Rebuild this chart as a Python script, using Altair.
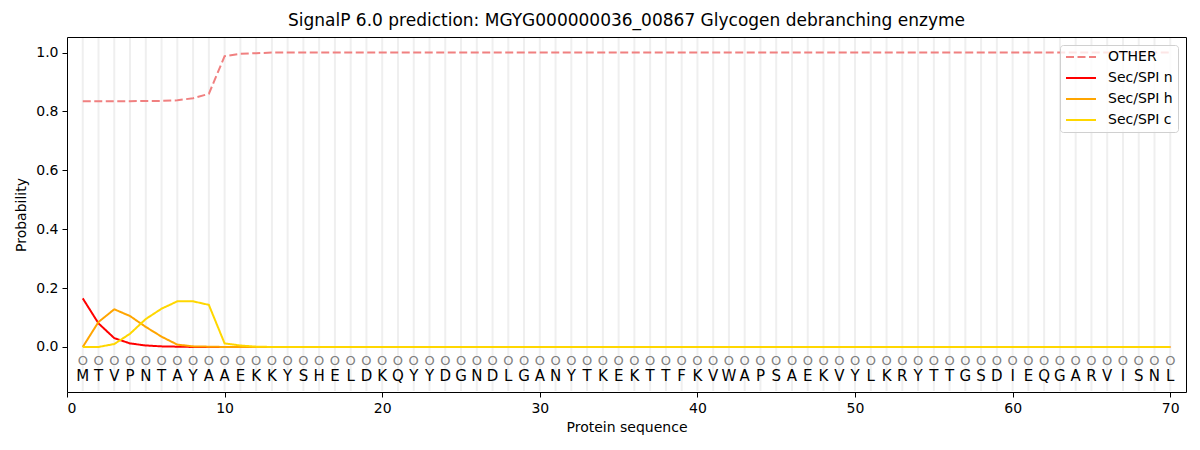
import altair as alt
import pandas as pd

sequence = list("MTVPNTAYAAEKKYSHELDKQYYDGNDLGANYTKEKTTFKVWAPSAEKVYLKRYTTGSDIEQGARVISNL")
positions = list(range(1, len(sequence) + 1))

other = [0.835, 0.835, 0.835, 0.835, 0.836, 0.836, 0.838, 0.845, 0.860, 0.988,
         0.996, 0.998] + [1.0] * 58
sec_n = [0.165, 0.080, 0.030, 0.012, 0.005, 0.002, 0.001] + [0.0] * 63
sec_h = [0.0, 0.085, 0.128, 0.105, 0.068, 0.035, 0.008, 0.002, 0.001] + [0.0] * 61
sec_c = [0.0, 0.0, 0.010, 0.045, 0.095, 0.130, 0.155, 0.155, 0.143, 0.012,
         0.005, 0.001] + [0.0] * 58

labels = ["OTHER", "Sec/SPI n", "Sec/SPI h", "Sec/SPI c"]
colours = ["#f08080", "#ff0000", "#ffa500", "#ffd700"]
dashes = [[8, 3.5], [1, 0], [1, 0], [1, 0]]

rows = []
for name, values in zip(labels, [other, sec_n, sec_h, sec_c]):
    for pos, val in zip(positions, values):
        rows.append({"pos": pos, "prob": val, "series": name})
lines_df = pd.DataFrame(rows)

seq_df = pd.DataFrame({"pos": positions, "aa": sequence,
                       "circle": ["O"] * len(sequence),
                       "y_circle": [-0.047] * len(sequence),
                       "y_aa": [-0.098] * len(sequence),
                       "grid_lo": [-0.15] * len(sequence),
                       "grid_hi": [1.05] * len(sequence)})

x_scale = alt.Scale(domain=[0, 71], nice=False, zero=False)
y_scale = alt.Scale(domain=[-0.153, 1.053], nice=False, zero=False)

axis_style = dict(grid=False, labelFontSize=14, titleFontSize=14,
                  titleFontWeight="normal", tickColor="black", domain=False,
                  labelColor="black", titleColor="black", labelFont="DejaVu Sans",
                  titleFont="DejaVu Sans", tickSize=5, labelPadding=4)

x_axis = alt.Axis(values=[0, 10, 20, 30, 40, 50, 60, 70], format="d",
                  title="Protein sequence", titlePadding=5, **axis_style)
y_axis = alt.Axis(values=[0.0, 0.2, 0.4, 0.6, 0.8, 1.0], format=".1f",
                  title="Probability", titlePadding=7, **axis_style)

base = alt.Chart(seq_df)

grid = base.mark_rule(color="#efefef", strokeWidth=2).encode(
    x=alt.X("pos:Q", scale=x_scale, axis=x_axis),
    y=alt.Y("grid_lo:Q", scale=y_scale, axis=y_axis),
    y2="grid_hi:Q"
)

circles = base.mark_text(fontSize=13, color="#808080", font="DejaVu Sans").encode(
    x=alt.X("pos:Q", scale=x_scale),
    y=alt.Y("y_circle:Q", scale=y_scale),
    text="circle:N"
)

letters = base.mark_text(fontSize=15, color="black", font="DejaVu Sans").encode(
    x=alt.X("pos:Q", scale=x_scale),
    y=alt.Y("y_aa:Q", scale=y_scale),
    text="aa:N"
)

lines = alt.Chart(lines_df).mark_line(strokeWidth=2).encode(
    x=alt.X("pos:Q", scale=x_scale),
    y=alt.Y("prob:Q", scale=y_scale),
    color=alt.Color("series:N", scale=alt.Scale(domain=labels, range=colours),
                    sort=labels, title=None,
                    legend=alt.Legend(orient="top-right", symbolType="stroke",
                                      symbolStrokeWidth=2, symbolSize=900,
                                      clipHeight=14, labelFontSize=14,
                                      labelFont="DejaVu Sans", labelColor="black",
                                      labelOffset=11,
                                      fillColor="rgba(255,255,255,0.8)",
                                      strokeColor="#d0d0d0",
                                      padding=5, cornerRadius=3, offset=8,
                                      rowPadding=7)),
    strokeDash=alt.StrokeDash("series:N", scale=alt.Scale(domain=labels, range=dashes),
                              sort=labels, title=None),
    order=alt.Order("series_order:Q")
).transform_calculate(
    series_order="indexof(['OTHER','Sec/SPI n','Sec/SPI h','Sec/SPI c'], datum.series)"
)

chart = alt.layer(grid, circles, letters, lines).properties(
    width=1119,
    height=355,
    title=alt.Title("SignalP 6.0 prediction: MGYG000000036_00867 Glycogen debranching enzyme",
                    fontSize=17, fontWeight="normal", font="DejaVu Sans", color="black",
                    offset=7),
    autosize=alt.AutoSizeParams(type="none"),
    padding={"left": 59, "top": 29, "right": 6, "bottom": 50}
).configure_view(stroke="black", strokeWidth=1)

chart.save("out.html", embed_options={"renderer": "svg", "actions": False})
